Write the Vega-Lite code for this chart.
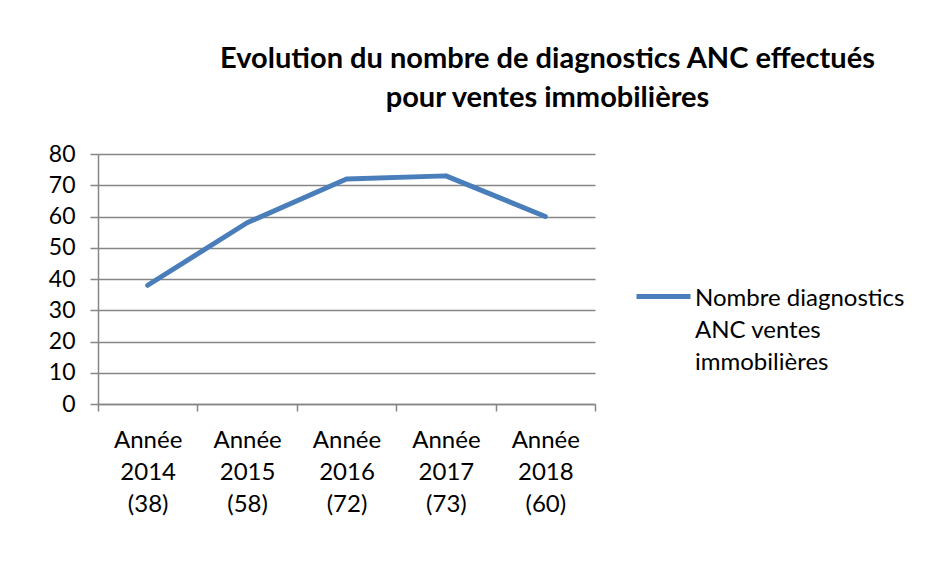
{
  "$schema": "https://vega.github.io/schema/vega-lite/v6.json",
  "autosize": "none",
  "width": 497,
  "height": 250,
  "padding": {"left": 98, "top": 154, "right": 349, "bottom": 163},
  "background": "white",
  "config": {
    "font": "Lato",
    "view": {"stroke": null},
    "axis": {
      "labelFont": "Lato",
      "labelFontSize": 23,
      "labelColor": "black",
      "domainColor": "#868686",
      "tickColor": "#868686",
      "gridColor": "#868686",
      "domainWidth": 1.5,
      "tickWidth": 1.5,
      "gridWidth": 1.5,
      "title": null
    }
  },
  "title": {
    "text": ["Evolution du nombre de diagnostics ANC effectués", "pour ventes immobilières"],
    "font": "Lato",
    "fontSize": 29,
    "fontWeight": "bold",
    "color": "black",
    "anchor": "middle",
    "dx": 201,
    "offset": 30,
    "lineHeight": 39
  },
  "data": {
    "values": [
      {"annee": "Année 2014 (38)", "nombre": 38, "serie": "Nombre diagnostics ANC ventes immobilières"},
      {"annee": "Année 2015 (58)", "nombre": 58, "serie": "Nombre diagnostics ANC ventes immobilières"},
      {"annee": "Année 2016 (72)", "nombre": 72, "serie": "Nombre diagnostics ANC ventes immobilières"},
      {"annee": "Année 2017 (73)", "nombre": 73, "serie": "Nombre diagnostics ANC ventes immobilières"},
      {"annee": "Année 2018 (60)", "nombre": 60, "serie": "Nombre diagnostics ANC ventes immobilières"}
    ]
  },
  "mark": {"type": "line", "strokeWidth": 5, "strokeCap": "round", "strokeJoin": "round"},
  "encoding": {
    "x": {
      "field": "annee",
      "type": "ordinal",
      "sort": null,
      "scale": {"type": "band", "paddingInner": 0, "paddingOuter": 0},
      "axis": {
        "labelAngle": 0,
        "labelFontSize": 24,
        "tickBand": "extent",
        "tickSize": 7,
        "grid": false,
        "labelPadding": 17,
        "labelBaseline": "top",
        "labelLineHeight": 32,
        "labelExpr": "split(datum.label, ' ')"
      }
    },
    "y": {
      "field": "nombre",
      "type": "quantitative",
      "scale": {"domain": [0, 80], "nice": false},
      "axis": {
        "values": [0, 10, 20, 30, 40, 50, 60, 70, 80],
        "tickSize": 8,
        "labelPadding": 15,
        "grid": true
      }
    },
    "color": {
      "field": "serie",
      "type": "nominal",
      "scale": {"range": ["#4A7EBB"]},
      "legend": {
        "title": null,
        "orient": "none",
        "legendX": 536,
        "legendY": 113,
        "padding": 0,
        "symbolType": "stroke",
        "symbolSize": 2916,
        "symbolStrokeWidth": 5,
        "labelFont": "Lato",
        "labelFontSize": 24,
        "labelColor": "black",
        "labelOffset": 2,
        "labelLimit": 400,
        "labelBaseline": "alphabetic",
        "labelExpr": "['Nombre diagnostics', 'ANC ventes', 'immobilières']",
        "encode": {"labels": {"update": {"dy": {"value": 9}, "lineHeight": {"value": 32}}}}
      }
    }
  }
}
